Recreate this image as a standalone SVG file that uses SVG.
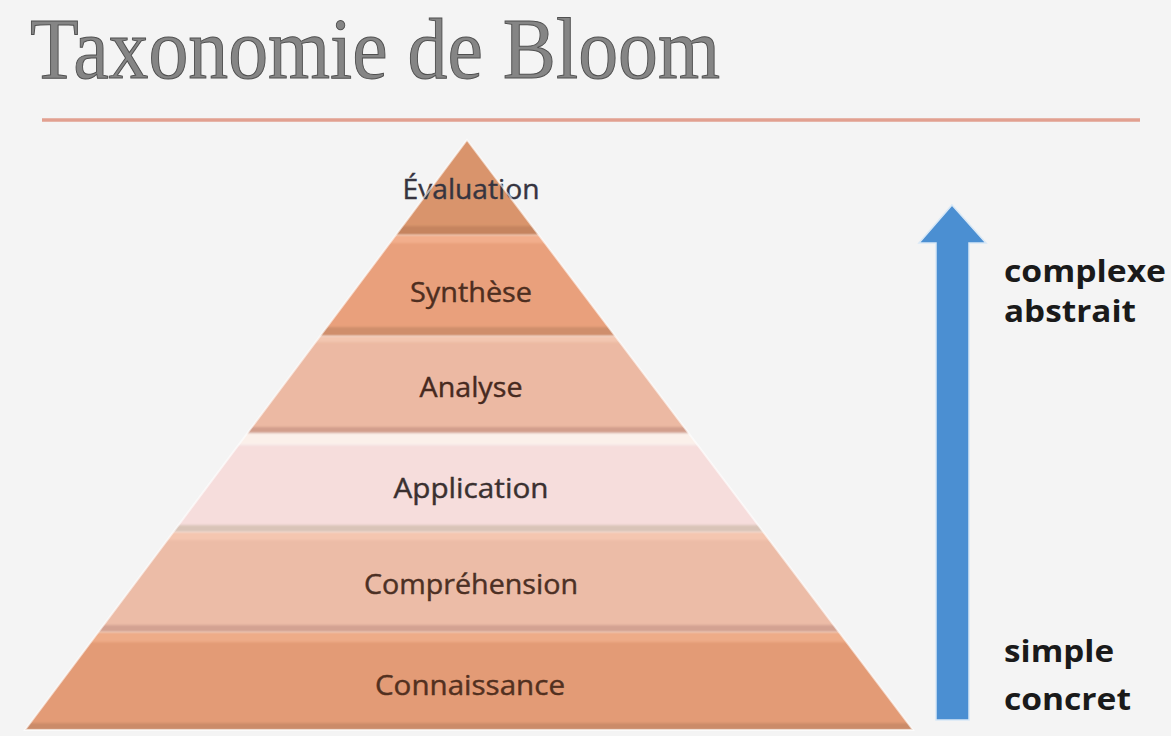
<svg xmlns="http://www.w3.org/2000/svg" width="1171" height="736" viewBox="0 0 1171 736">
<style>
.lbl{font-family:"Open Sans","Noto Sans",sans-serif;font-size:27px;text-anchor:middle;stroke-width:0.4}
.side{font-family:"Open Sans","Noto Sans",sans-serif;font-weight:bold;font-size:31px;fill:#1a1a1a}
</style>
<defs>
<clipPath id="pyr"><polygon points="467,140 913,730 25,730"/></clipPath>
<filter id="blur" x="-5%" y="-5%" width="110%" height="110%"><feGaussianBlur stdDeviation="0.8"/></filter>
</defs>
<rect width="1171" height="736" fill="#f4f4f4"/>
<g id="title">
<text x="30" y="78" font-family="Liberation Serif,serif" font-size="86" textLength="690" lengthAdjust="spacingAndGlyphs" fill="#858585" stroke="#505050" stroke-width="1">Taxonomie de Bloom</text>
<line x1="42" y1="120" x2="1140" y2="120" stroke="#e2a090" stroke-width="3.5"/>
</g>
<g id="evaluation">
<g clip-path="url(#pyr)" filter="url(#blur)">
<rect x="0" y="140" width="1171" height="95" fill="#d9946c"/>
<rect x="0" y="226" width="1171" height="9" fill="#c5845e"/>
</g>
<text class="lbl" x="471" y="199" textLength="137" lengthAdjust="spacingAndGlyphs" fill="#36343f" stroke="#36343f">Évaluation</text>
</g>
<g id="synthese">
<g clip-path="url(#pyr)" filter="url(#blur)">
<rect x="0" y="235" width="1171" height="101" fill="#e9a07b"/>
<rect x="0" y="235" width="1171" height="8" fill="#f2ae8c"/>
<rect x="0" y="327" width="1171" height="9" fill="#cf8e6c"/>
</g>
<text class="lbl" x="471" y="302" textLength="122" lengthAdjust="spacingAndGlyphs" fill="#4e2e20" stroke="#4e2e20">Synthèse</text>
</g>
<g id="analyse">
<g clip-path="url(#pyr)" filter="url(#blur)">
<rect x="0" y="336" width="1171" height="97" fill="#ecb9a3"/>
<rect x="0" y="336" width="1171" height="6" fill="#f3c6b0"/>
<rect x="0" y="427" width="1171" height="6" fill="#d29e8c"/>
<rect x="0" y="433" width="1171" height="12" fill="#fbf0ea"/>
</g>
<text class="lbl" x="471" y="397" textLength="103" lengthAdjust="spacingAndGlyphs" fill="#472a1f" stroke="#472a1f">Analyse</text>
</g>
<g id="application">
<g clip-path="url(#pyr)" filter="url(#blur)">
<rect x="0" y="445" width="1171" height="87" fill="#f6dddc"/>
<rect x="0" y="525" width="1171" height="7" fill="#d9c4b8"/>
</g>
<text class="lbl" x="471" y="498" textLength="155" lengthAdjust="spacingAndGlyphs" fill="#3a3030" stroke="#3a3030">Application</text>
</g>
<g id="comprehension">
<g clip-path="url(#pyr)" filter="url(#blur)">
<rect x="0" y="532" width="1171" height="100" fill="#ecbca7"/>
<rect x="0" y="532" width="1171" height="8" fill="#f4c6b0"/>
<rect x="0" y="625" width="1171" height="7" fill="#d3a292"/>
</g>
<text class="lbl" x="471" y="594" textLength="214" lengthAdjust="spacingAndGlyphs" fill="#4c3024" stroke="#4c3024">Compréhension</text>
</g>
<g id="connaissance">
<g clip-path="url(#pyr)" filter="url(#blur)">
<rect x="0" y="632" width="1171" height="98" fill="#e39b76"/>
<rect x="0" y="632" width="1171" height="10" fill="#eeac88"/>
<rect x="0" y="723" width="1171" height="7" fill="#cb8b69"/>
</g>
<text class="lbl" x="470" y="695" textLength="190" lengthAdjust="spacingAndGlyphs" fill="#52301f" stroke="#52301f">Connaissance</text>
</g>
<polygon points="467,140 913,730 25,730" fill="none" stroke="#ffffff" stroke-width="2" stroke-opacity="0.6"/>
<g id="connectors">
<polygon id="arrow" points="952,205 986,243 969,243 969,720 936,720 936,243 919,243" fill="#4b8fd2" stroke="#d8e8f6" stroke-width="1.5"/>
</g>
<g id="labels-right">
<text class="side" x="1004" y="282" textLength="162" lengthAdjust="spacingAndGlyphs">complexe</text>
<text class="side" x="1004" y="322" textLength="132" lengthAdjust="spacingAndGlyphs">abstrait</text>
<text class="side" x="1004" y="662" textLength="110" lengthAdjust="spacingAndGlyphs">simple</text>
<text class="side" x="1004" y="710" textLength="127" lengthAdjust="spacingAndGlyphs">concret</text>
</g>
</svg>
